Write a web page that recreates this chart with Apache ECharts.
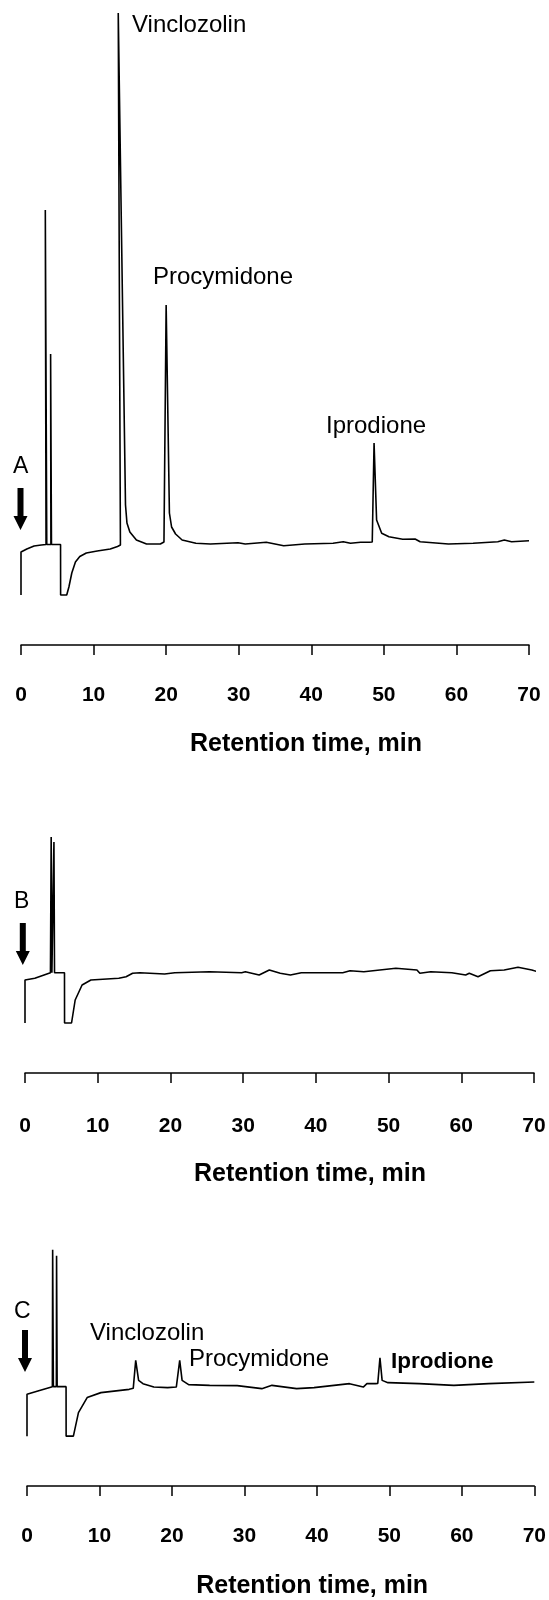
<!DOCTYPE html>
<html>
<head>
<meta charset="utf-8">
<style>
  html, body { margin: 0; padding: 0; background: #fff; }
  #chart { width: 549px; height: 1600px; }
</style>
<script src="https://cdn.jsdelivr.net/npm/echarts@6/dist/echarts.min.js"></script>
</head>
<body>
<div id="chart"></div>
<script>
// retention time (min), detector response (arbitrary units)
const traceA = [
  [0, 0], [0, 4.3], [0.8, 4.6], [1.8, 4.9], [2.8, 5.0], [3.45, 5.05], [3.35, 38.5], [3.55, 5.05],
  [4.12, 5.05], [4.08, 24.1], [4.2, 5.05], [5.45, 5.05], [5.46, 0], [6.3, 0], [6.6, 0.8],
  [7.0, 2.2], [7.5, 3.3], [8.1, 3.85], [9.0, 4.2], [10.5, 4.4], [12.3, 4.6], [13.3, 4.85],
  [13.7, 5.0], [13.4, 58.2], [14.4, 9.0], [14.6, 7.2], [15.0, 6.3], [15.9, 5.5], [17.3, 5.1],
  [19.2, 5.1], [19.7, 5.3], [20.0, 29.0], [20.45, 8.2], [20.75, 6.8], [21.3, 6.1], [22.2, 5.5],
  [24.1, 5.17], [26.1, 5.1], [29.9, 5.23], [30.9, 5.1], [33.8, 5.27], [36.2, 4.93], [39.1, 5.1],
  [43.0, 5.17], [44.4, 5.33], [45.4, 5.17], [46.8, 5.27], [48.0, 5.27], [48.4, 5.3], [48.65, 15.2],
  [49.0, 7.5], [49.7, 6.17], [50.7, 5.83], [52.6, 5.57], [54.3, 5.6], [55.0, 5.33], [58.9, 5.1],
  [62.3, 5.17], [65.7, 5.33], [66.6, 5.5], [67.6, 5.33], [70.0, 5.43]
];
const traceB = [
  [0, 0], [0, 4.3], [1.35, 4.47], [3.5, 5.03], [3.6, 18.6], [3.7, 5.03], [3.95, 5.03], [3.98, 18.1],
  [4.06, 5.03], [5.43, 5.03], [5.44, 0], [6.4, 0], [6.9, 2.3], [7.85, 3.8], [9.06, 4.3],
  [12.9, 4.47], [13.9, 4.63], [14.8, 4.97], [15.8, 5.03], [19.2, 4.9], [20.6, 5.03], [25.4, 5.13],
  [29.8, 5.03], [30.3, 5.13], [32.2, 4.8], [33.6, 5.3], [35.1, 4.97], [36.5, 4.8], [38.0, 5.03],
  [43.7, 5.03], [44.7, 5.23], [46.6, 5.13], [51.0, 5.47], [53.9, 5.3], [54.3, 4.97], [55.8, 5.13],
  [58.7, 5.03], [60.6, 4.8], [61.1, 4.97], [62.3, 4.63], [64.0, 5.23], [65.9, 5.3], [67.8, 5.57],
  [69.7, 5.3], [71.2, 4.97]
];
const traceC = [
  [0, 0], [0, 4.2], [1.5, 4.53], [3.5, 4.97], [3.54, 18.7], [3.64, 4.97], [4.05, 4.97], [4.08, 18.1],
  [4.16, 4.97], [5.39, 4.97], [5.4, 0], [6.4, 0], [7.1, 2.37], [8.3, 3.87], [10.2, 4.37],
  [14.1, 4.7], [14.66, 4.8], [15.0, 7.6], [15.4, 5.6], [16.0, 5.27], [17.5, 4.93], [19.4, 4.87],
  [20.6, 4.93], [20.8, 5.0], [21.07, 7.6], [21.4, 5.6], [22.3, 5.17], [25.2, 5.1], [29.0, 5.07],
  [32.4, 4.77], [33.8, 5.1], [37.2, 4.77], [39.6, 4.87], [44.5, 5.27], [46.4, 4.93], [46.9, 5.27],
  [48.1, 5.27], [48.4, 5.3], [48.7, 7.87], [49.0, 5.6], [49.8, 5.37], [54.1, 5.27], [58.9, 5.1],
  [63.7, 5.27], [70.0, 5.43]
];
const peakNames = ['Vinclozolin', 'Procymidone', 'Iprodione'];
const panelNames = ['A', 'B', 'C'];
const axisTitle = 'Retention time, min';
const timeMin = 0, timeMax = 70, timeStep = 10;

const FONT = '"Liberation Sans", Arial, Helvetica, sans-serif';

function xAxisFor(i, margin, gap, shift) {
  return {
    type: 'value', gridIndex: i, min: timeMin, max: timeMax, interval: timeStep,
    axisLine: { onZero: false, lineStyle: { color: '#000', width: 1.5 } },
    axisTick: { length: 10, lineStyle: { color: '#000', width: 1.5 } },
    splitLine: { show: false },
    axisLabel: { color: '#000', fontSize: 21, fontWeight: 'bold', fontFamily: FONT, margin: margin },
    name: axisTitle, nameLocation: 'middle', nameGap: gap,
    nameTextStyle: { color: '#000', fontSize: 25, fontWeight: 'bold', fontFamily: FONT, padding: [0, 0, 0, shift] }
  };
}
function yAxisFor(i, min, max) {
  return { type: 'value', gridIndex: i, min: min, max: max, show: false };
}
function traceSeries(i, data) {
  return {
    type: 'line', xAxisIndex: i, yAxisIndex: i, data: data, showSymbol: false,
    lineStyle: { color: '#000', width: 1.6 }, silent: true
  };
}
function txt(s, x, y, size, weight, align) {
  return {
    type: 'text', x: x, y: y,
    style: { text: s, fill: '#000', font: (weight || 'normal') + ' ' + size + 'px ' + FONT,
      textAlign: align || 'left', textVerticalAlign: 'middle', align: align || 'left', verticalAlign: 'middle' }
  };
}
function arrow(cx, top, tip) {
  return {
    type: 'polygon',
    shape: { points: [[cx - 3, top], [cx + 3, top], [cx + 3, tip - 14], [cx + 7, tip - 14], [cx, tip], [cx - 7, tip - 14], [cx - 3, tip - 14]] },
    style: { fill: '#000' }
  };
}

const chart = echarts.init(document.getElementById('chart'), null, { renderer: 'canvas' });
chart.setOption({
  animation: false,
  backgroundColor: '#fff',
  grid: [
    { left: 21, width: 508, top: 0, height: 645 },
    { left: 25, width: 509, top: 780, height: 293 },
    { left: 27, width: 509, top: 1200, height: 287 }
  ],
  xAxis: [xAxisFor(0, 40, 87, 62), xAxisFor(1, 43, 89, 61), xAxisFor(2, 40, 88, 63)],
  yAxis: [yAxisFor(0, -5.0, 59.5), yAxisFor(1, -5.0, 24.3), yAxisFor(2, -5.0, 23.7)],
  series: [traceSeries(0, traceA), traceSeries(1, traceB), traceSeries(2, traceC)],
  graphic: [
    txt(panelNames[0], 13, 467, 23),
    arrow(20.5, 488, 530),
    txt(peakNames[0], 132, 25, 24),
    txt(peakNames[1], 153, 277, 24),
    txt(peakNames[2], 326, 426, 24),

    txt(panelNames[1], 14, 902, 23),
    arrow(22.8, 923, 965),

    txt(panelNames[2], 14, 1312, 23),
    arrow(25, 1330, 1372),
    txt(peakNames[0], 90, 1333, 24),
    txt(peakNames[1], 189, 1359, 24),
    txt(peakNames[2], 391, 1362, 22.5, 'bold')
  ]
});
</script>
</body>
</html>
